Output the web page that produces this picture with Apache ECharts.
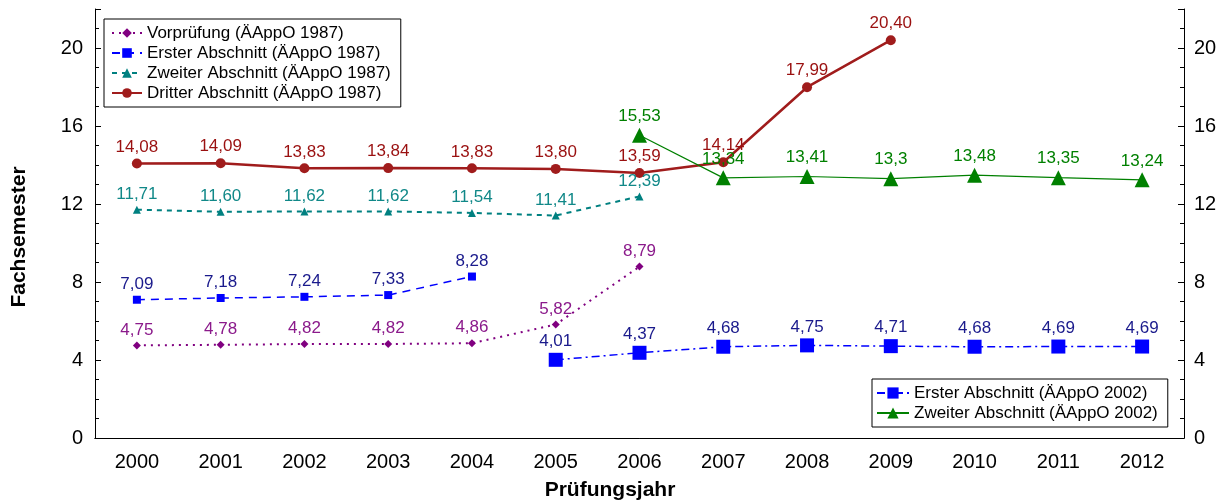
<!DOCTYPE html>
<html><head><meta charset="utf-8">
<script src="https://cdn.jsdelivr.net/npm/echarts@6/dist/echarts.min.js"></script>
<style>html,body{margin:0;padding:0;background:#fff}#c{width:1229px;height:501px}</style>
</head><body><div id="c"></div>
<script>
const years = ['2000','2001','2002','2003','2004','2005','2006','2007','2008','2009','2010','2011','2012'];
const yTicks = [0,4,8,12,16,20];

const vorYears = ['2000','2001','2002','2003','2004','2005','2006'];
const vorVals = [4.75,4.78,4.82,4.82,4.86,5.82,8.79];
const vorLabels = ['4,75','4,78','4,82','4,82','4,86','5,82','8,79'];

const e87Years = ['2000','2001','2002','2003','2004'];
const e87Vals = [7.09,7.18,7.24,7.33,8.28];
const e87Labels = ['7,09','7,18','7,24','7,33','8,28'];

const z87Years = ['2000','2001','2002','2003','2004','2005','2006'];
const z87Vals = [11.71,11.60,11.62,11.62,11.54,11.41,12.39];
const z87Labels = ['11,71','11,60','11,62','11,62','11,54','11,41','12,39'];

const d87Years = ['2000','2001','2002','2003','2004','2005','2006','2007','2008','2009'];
const d87Vals = [14.08,14.09,13.83,13.84,13.83,13.80,13.59,14.14,17.99,20.40];
const d87Labels = ['14,08','14,09','13,83','13,84','13,83','13,80','13,59','14,14','17,99','20,40'];

const e02Years = ['2005','2006','2007','2008','2009','2010','2011','2012'];
const e02Vals = [4.01,4.37,4.68,4.75,4.71,4.68,4.69,4.69];
const e02Labels = ['4,01','4,37','4,68','4,75','4,71','4,68','4,69','4,69'];

const z02Years = ['2006','2007','2008','2009','2010','2011','2012'];
const z02Vals = [15.53,13.34,13.41,13.3,13.48,13.35,13.24];
const z02Labels = ['15,53','13,34','13,41','13,3','13,48','13,35','13,24'];

function build(ys, vals, labels){
  return ys.map((y,i)=>({value:[y, vals[i]], lbl: labels[i]}));
}
const FONT = 'Liberation Sans';
function mkSeries(name, ys, vals, labels, color, labelColor, symbol, size, lineType, width){
  return {
    name, type:'line', data: build(ys, vals, labels),
    symbol, symbolSize: size, color,
    itemStyle:{color},
    lineStyle:{color, type: lineType, width},
    label:{show:true, position:'top', distance:3, color: labelColor, fontSize:17, fontFamily:FONT,
      formatter: p => p.data.lbl},
    z: 3
  };
}

const chart = echarts.init(document.getElementById('c'));
chart.setOption({
  animation:false,
  textStyle:{fontFamily:FONT},
  grid:{left:95, right:45, top:9, bottom:63, outerBoundsMode:'none', containLabel:false},
  xAxis:[{
    type:'category', data: years, boundaryGap:true, position:'bottom',
    axisLine:{lineStyle:{color:'#000', width:1}},
    axisTick:{alignWithLabel:true, inside:true, length:6, lineStyle:{color:'#000'}},
    axisLabel:{color:'#000', fontSize:20, margin:14, fontFamily:FONT},
    splitLine:{show:false}
  },{
    type:'category', data: years, boundaryGap:true, position:'top',
    axisLine:{lineStyle:{color:'#000'}},
    axisTick:{alignWithLabel:true, inside:true, length:6, lineStyle:{color:'#000'}},
    axisLabel:{show:false}, splitLine:{show:false}
  }],
  yAxis:[{
    type:'value', min:0, max:22, interval:4, position:'left',
    axisLine:{show:true, lineStyle:{color:'#000'}},
    axisTick:{show:true, inside:true, length:6, lineStyle:{color:'#000'}},
    minorTick:{show:true, splitNumber:4, length:4, lineStyle:{color:'#000'}},
    axisLabel:{color:'#000', fontSize:20, margin:12, fontFamily:FONT,
      formatter: v => yTicks.includes(v) ? String(v) : ''},
    splitLine:{show:false}
  },{
    type:'value', min:0, max:22, interval:4, position:'right',
    axisLine:{show:true, lineStyle:{color:'#000'}},
    axisTick:{show:true, inside:true, length:6, lineStyle:{color:'#000'}},
    minorTick:{show:true, splitNumber:4, length:4, lineStyle:{color:'#000'}},
    axisLabel:{color:'#000', fontSize:20, margin:10, fontFamily:FONT,
      formatter: v => yTicks.includes(v) ? String(v) : ''},
    splitLine:{show:false}
  }],
  graphic:[{
    type:'text', style:{text:'Prüfungsjahr', font:'bold 21px "Liberation Sans"', fill:'#000',
      textAlign:'center', textVerticalAlign:'middle'}, position:[610, 490]
  },{
    type:'text', style:{text:'Fachsemester', font:'bold 21px "Liberation Sans"', fill:'#000',
      textAlign:'center', textVerticalAlign:'middle'}, position:[19, 237], rotation:Math.PI/2
  }],
  legend:[{
    data:['Vorprüfung (ÄAppO 1987)','Erster Abschnitt (ÄAppO 1987)','Zweiter Abschnitt (ÄAppO 1987)','Dritter Abschnitt (ÄAppO 1987)'],
    orient:'vertical', left:104, top:19, itemGap:2, itemWidth:30, itemHeight:12,
    padding:[5,10,5,7], borderColor:'#000', borderWidth:1, borderRadius:0,
    backgroundColor:'#fff',
    textStyle:{fontSize:17, color:'#000', fontFamily:FONT, lineHeight:18}
  },{
    data:['Erster Abschnitt (ÄAppO 2002)','Zweiter Abschnitt (ÄAppO 2002)'],
    orient:'vertical', left:872, top:379, itemGap:2, itemWidth:32, itemHeight:14,
    padding:[5,10,5,4], borderColor:'#000', borderWidth:1, borderRadius:0,
    backgroundColor:'#fff',
    textStyle:{fontSize:17, color:'#000', fontFamily:FONT, lineHeight:18}
  }],
  series:[
    mkSeries('Vorprüfung (ÄAppO 1987)', vorYears, vorVals, vorLabels, '#800080', '#8b1a8b', 'diamond', 8, [2,5], 2),
    mkSeries('Erster Abschnitt (ÄAppO 1987)', e87Years, e87Vals, e87Labels, '#0000ff', '#1a1a8c', 'rect', 8, [8,6], 1.5),
    mkSeries('Zweiter Abschnitt (ÄAppO 1987)', z87Years, z87Vals, z87Labels, '#008080', '#108888', 'triangle', 8, [5,5], 2),
    mkSeries('Dritter Abschnitt (ÄAppO 1987)', d87Years, d87Vals, d87Labels, '#a01c1c', '#9a1010', 'circle', 10, 'solid', 2.5),
    mkSeries('Erster Abschnitt (ÄAppO 2002)', e02Years, e02Vals, e02Labels, '#0000ff', '#1a1a8c', 'rect', 14, [8,4,2,4], 1.5),
    mkSeries('Zweiter Abschnitt (ÄAppO 2002)', z02Years, z02Vals, z02Labels, '#008000', '#008000', 'triangle', 15, 'solid', 1.2)
  ]
});
</script></body></html>
